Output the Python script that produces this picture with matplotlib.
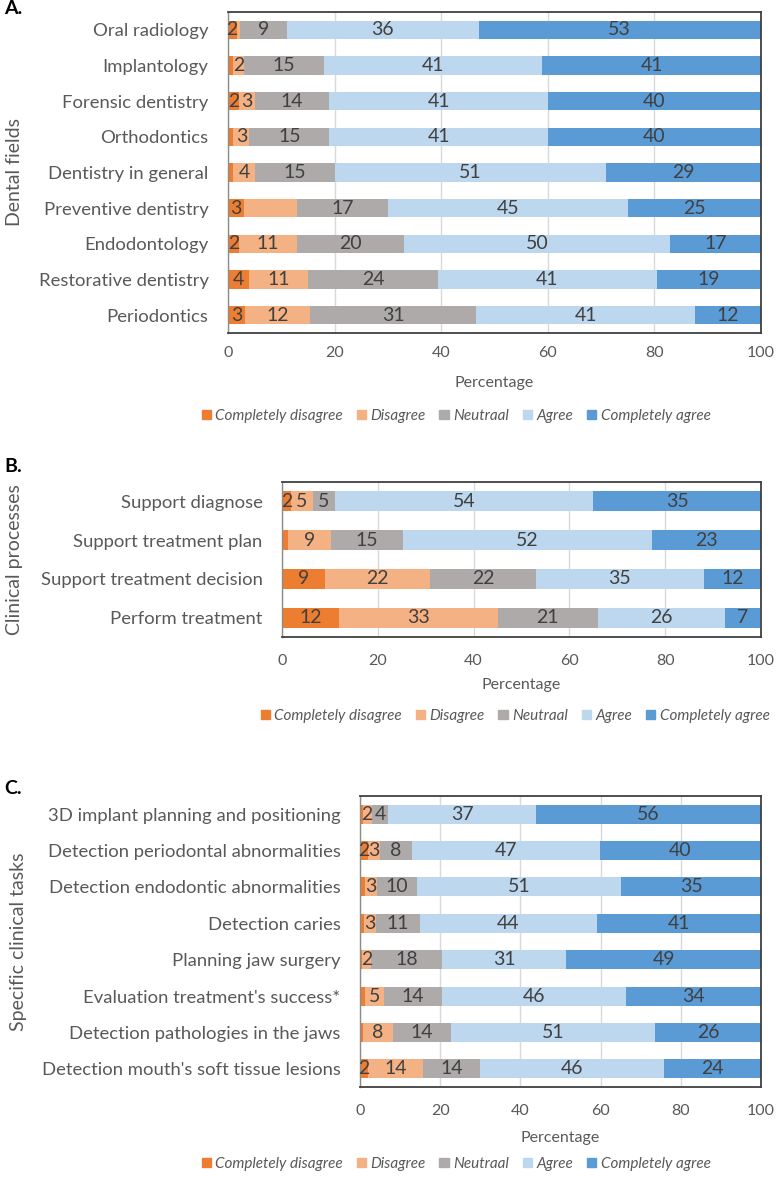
import numpy as np
import matplotlib
matplotlib.use("Agg")
import matplotlib.pyplot as plt
from matplotlib.patches import Patch

plt.rcParams["font.family"] = ["Lato", "DejaVu Sans"]

SERIES = ["Completely disagree", "Disagree", "Neutraal", "Agree", "Completely agree"]
COLORS = ["#ED7D31", "#F4B183", "#AEAAAA", "#BDD7EE", "#5B9BD5"]
TXT = "#595959"
LBL = "#404040"

# ── Panel A: dental fields ────────────────────────────────────────────
fields = ["Oral radiology", "Implantology", "Forensic dentistry", "Orthodontics",
          "Dentistry in general", "Preventive dentistry", "Endodontology",
          "Restorative dentistry", "Periodontics"]
a_cd = [1.6, 1.0, 2, 1.0, 1.0, 3, 2, 4, 3.2]
a_d = [0.7, 2, 3, 3, 4, 10, 11, 11, 12.2]
a_n = [8.7, 15, 14, 15, 15, 17, 20, 24.4, 31.2]
a_a = [36, 41, 41, 41, 51, 45, 50, 41, 41]
a_ca = [53, 41, 40, 40, 29, 25, 17, 19.4, 12.4]

# ── Panel B: clinical processes ───────────────────────────────────────
processes = ["Support diagnose", "Support treatment plan",
             "Support treatment decision", "Perform treatment"]
b_cd = [1.8, 1.2, 9, 12]
b_d = [4.6, 9, 22, 33]
b_n = [4.6, 15, 22, 21]
b_a = [54, 52, 35, 26.4]
b_ca = [35, 22.8, 12, 7.4]

# ── Panel C: specific clinical tasks ──────────────────────────────────
tasks = ["3D implant planning and positioning", "Detection periodontal abnormalities",
         "Detection endodontic abnormalities", "Detection caries",
         "Planning jaw surgery", "Evaluation treatment's success*",
         "Detection pathologies in the jaws", "Detection mouth's soft tissue lesions"]
c_cd = [0.7, 2.1, 1.2, 1.0, 0.5, 1.2, 0.7, 2.1]
c_d = [2.2, 2.9, 3, 3, 2.2, 4.8, 7.6, 13.7]
c_n = [4.2, 7.9, 10, 11, 17.7, 14.4, 14.3, 14.1]
c_a = [36.8, 47, 51, 44, 31, 46, 51, 46]
c_ca = [56, 40, 35, 41, 48.6, 33.6, 26.4, 24.1]

# labels removed in the original
HIDE = {("Preventive dentistry", "Disagree")}

W, H = 777, 1178
fig = plt.figure(figsize=(W / 100, H / 100), dpi=100)


def px_axes(left, top, right, bottom):
    return fig.add_axes([left / W, 1 - bottom / H, (right - left) / W, (bottom - top) / H])


def panel(cats, cols, box, ylabel, ylab_x, tag, tag_y, tick_y, xlab_y, leg_x, leg_y):
    left, top, right, bottom = box
    ax = px_axes(left, top, right, bottom)
    y = np.arange(len(cats))
    start = np.zeros(len(cats))
    for vals, name, col in zip(cols, SERIES, COLORS):
        vals = np.array(vals, dtype=float)
        ax.barh(y, vals, left=start, height=0.52, color=col, zorder=2)
        for i, v in enumerate(vals):
            if v >= 1.5 and (cats[i], name) not in HIDE:
                ax.text(start[i] + v / 2, y[i], f"{round(v)}", ha="center", va="center",
                        fontsize=14, color=LBL, zorder=3)
        start += vals
    ax.set_xlim(0, 100)
    ax.set_ylim(len(cats) - 0.5, -0.5)
    ax.set_xticks(range(0, 101, 20))
    ax.set_yticks(y)
    ax.set_yticklabels(cats, fontsize=13.3, color=TXT)
    ax.tick_params(axis="y", length=0, pad=14)
    ax.tick_params(axis="x", length=0, labelbottom=False)
    ax.grid(axis="x", color="#D9D9D9", lw=1, zorder=0)
    for s in ax.spines.values():
        s.set_color("#404040")
        s.set_linewidth(1.3)
    ax.spines["left"].set_color("#8C8C8C")
    ax.spines["left"].set_linewidth(1)
    # tick labels, axis title, legend placed by pixel
    for t in range(0, 101, 20):
        fig.text((left + (right - left) * t / 100) / W, 1 - tick_y / H, str(t),
                 ha="center", va="center", fontsize=11.5, color=TXT)
    fig.text((left + right) / 2 / W, 1 - xlab_y / H, "Percentage",
             ha="center", va="center", fontsize=11.5, color=TXT)
    fig.text(ylab_x / W, 1 - (top + bottom) / 2 / H, ylabel, rotation=90,
             ha="center", va="center", fontsize=14, color=TXT)
    fig.text(4 / W, 1 - tag_y / H, tag, ha="left", va="center",
             fontsize=14, weight="bold", color="black")
    handles = [Patch(color=c) for c in COLORS]
    leg = fig.legend(handles, SERIES, ncol=5, loc="center",
                     bbox_to_anchor=(leg_x / W, 1 - leg_y / H), frameon=False,
                     handlelength=0.6, handleheight=0.6, handletextpad=0.3,
                     columnspacing=0.9, prop={"size": 11, "style": "italic"})
    for t in leg.get_texts():
        t.set_color(TXT)
    return ax


panel(fields, [a_cd, a_d, a_n, a_a, a_ca], (228, 12, 761, 333),
      "Dental fields", 15, "A.", 8, 353, 383, 456, 416)
panel(processes, [b_cd, b_d, b_n, b_a, b_ca], (282, 482, 761, 637),
      "Clinical processes", 15, "B.", 466, 661, 685, 515, 716)
panel(tasks, [c_cd, c_d, c_n, c_a, c_ca], (360, 796, 761, 1087),
      "Specific clinical tasks", 19, "C.", 788, 1111, 1138, 456, 1164)

fig.savefig("out.png", dpi=100, facecolor="white")
